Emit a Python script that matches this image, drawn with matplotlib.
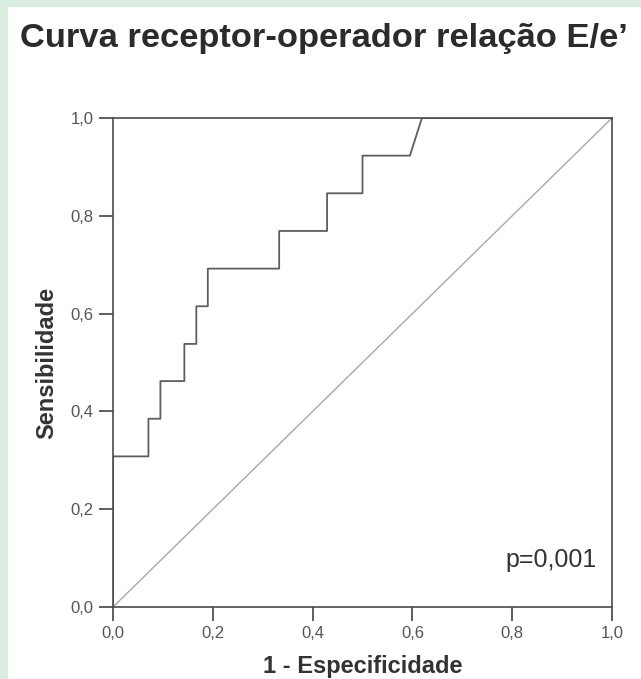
import matplotlib
matplotlib.use("Agg")
import matplotlib.pyplot as plt
from matplotlib.patches import Rectangle
from matplotlib.ticker import FuncFormatter

plt.rcParams['font.family'] = ['Liberation Sans', 'DejaVu Sans']

# ROC points (1 - especificidade, sensibilidade)
fpr = [0.0, 0.0, 0.071, 0.071, 0.095, 0.095, 0.143, 0.143, 0.167, 0.167,
       0.190, 0.190, 0.333, 0.333, 0.429, 0.429, 0.500, 0.500, 0.595, 0.619, 1.0]
tpr = [0.0, 0.308, 0.308, 0.385, 0.385, 0.462, 0.462, 0.538, 0.538, 0.615,
       0.615, 0.692, 0.692, 0.769, 0.769, 0.846, 0.846, 0.923, 0.923, 1.0, 1.0]
ref_line = [0.0, 1.0]
ticks = [0.0, 0.2, 0.4, 0.6, 0.8, 1.0]

title = "Curva receptor-operador relação E/e\u2019"
p_text = "p=0,001"

fig = plt.figure(figsize=(6.41, 6.79), dpi=100)
fig.patch.set_facecolor('#d8ede0')
# white panel inside the green border, kept behind the axes
fig.patches.append(Rectangle((8 / 641, 0), 1, 1 - 7 / 679, transform=fig.transFigure,
                             facecolor='white', edgecolor='none', zorder=-10))

fig.text(20 / 641, 1 - 39 / 679, title, fontsize=24.8, fontweight='bold',
         color='#2b2b2b', ha='left', va='center')

ax = fig.add_axes([113 / 641, 72 / 679, 499 / 641, 489 / 679])
ax.set_facecolor('white')

ax.plot(ref_line, ref_line, color='#a8a8a8', lw=1.0)
ax.plot(fpr, tpr, color='#5e5e5e', lw=1.3)

ax.set_xlim(0, 1)
ax.set_ylim(0, 1)
ax.set_xticks(ticks)
ax.set_yticks(ticks)
fmt = FuncFormatter(lambda v, pos: f"{v:.1f}".replace('.', ','))
ax.xaxis.set_major_formatter(fmt)
ax.yaxis.set_major_formatter(fmt)
ax.tick_params(direction='out', length=10, width=1.2, color='#444444',
               labelsize=12, labelcolor='#555555', pad=4)

for s in ax.spines.values():
    s.set_color('#4a4a4a')
    s.set_linewidth(1.2)

ax.set_xlabel("1 - Especificidade", fontsize=17, fontweight='bold', color='#333333')
ax.set_ylabel("Sensibilidade", fontsize=17, fontweight='bold', color='#333333')
ax.xaxis.set_label_coords(0.5, -0.098)
ax.yaxis.set_label_coords(-0.110, 0.5)

ax.text(0.877, 0.082, p_text, fontsize=18, color='#333333', ha='center', va='baseline')

fig.savefig("out.png", dpi=100, facecolor=fig.get_facecolor())
